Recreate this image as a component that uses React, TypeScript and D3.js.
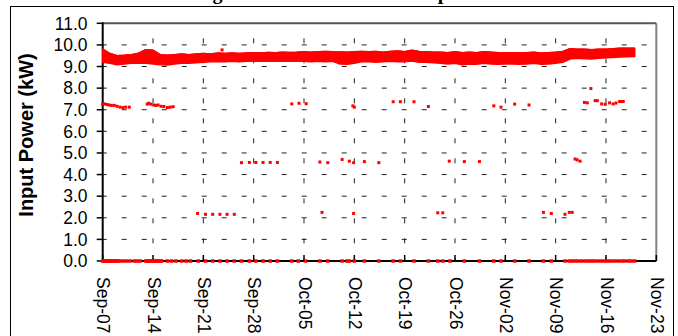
import React from 'react';
import * as d3 from 'd3';

const W = 678;
const H = 336;

const titleText = 'Long-Term Electric Heat Pump Demand';
const yTitle = 'Input Power (kW)';
const xTickLabels = ['Sep-07', 'Sep-14', 'Sep-21', 'Sep-28', 'Oct-05', 'Oct-12', 'Oct-19', 'Oct-26', 'Nov-02', 'Nov-09', 'Nov-16', 'Nov-23'];
const yTicks = [0, 1, 2, 3, 4, 5, 6, 7, 8, 9, 10, 11];

// daily envelope of the continuous input-power band (day 0 = Sep-07)
const bandHigh = [9.80, 9.60, 9.50, 9.52, 9.55, 9.62, 9.78, 9.75, 9.55, 9.52,
  9.55, 9.58, 9.55, 9.58, 9.60, 9.58, 9.62, 9.60, 9.62, 9.60,
  9.62, 9.64, 9.62, 9.65, 9.64, 9.66, 9.65, 9.66, 9.68, 9.66,
  9.68, 9.70, 9.68, 9.67, 9.66, 9.68, 9.70, 9.68, 9.70, 9.66,
  9.70, 9.72, 9.68, 9.75, 9.70, 9.68, 9.66, 9.66, 9.64, 9.68,
  9.64, 9.66, 9.64, 9.68, 9.66, 9.64, 9.62, 9.64, 9.62, 9.64,
  9.66, 9.62, 9.64, 9.66, 9.70, 9.82, 9.80, 9.80, 9.78, 9.80,
  9.80, 9.82, 9.84, 9.84, 9.85];
const bandLow = [9.20, 9.15, 9.08, 9.12, 9.15, 9.15, 9.15, 9.12, 9.08, 9.07,
  9.12, 9.15, 9.15, 9.18, 9.20, 9.22, 9.22, 9.22, 9.24, 9.22,
  9.24, 9.25, 9.24, 9.25, 9.24, 9.26, 9.24, 9.25, 9.24, 9.22,
  9.24, 9.22, 9.24, 9.12, 9.10, 9.15, 9.22, 9.22, 9.20, 9.22,
  9.24, 9.22, 9.22, 9.25, 9.20, 9.20, 9.18, 9.15, 9.12, 9.15,
  9.08, 9.12, 9.10, 9.15, 9.12, 9.10, 9.12, 9.12, 9.10, 9.12,
  9.15, 9.10, 9.12, 9.15, 9.20, 9.35, 9.38, 9.36, 9.35, 9.38,
  9.40, 9.42, 9.44, 9.45, 9.46];

// readings at zero
const zeroDays = [0.0, 0.15, 0.35, 0.5, 0.7, 0.85, 1.05, 1.2, 1.4, 1.6, 1.75, 1.95, 2.1, 2.3,
  2.8, 3.3, 3.8, 4.4, 4.8, 5.2,
  6.0, 6.2, 6.4, 6.6, 6.8, 7.0, 7.2, 7.4, 7.6, 7.8, 8.0, 8.2,
  9.0, 9.6, 10.2, 11.0, 11.6, 12.2, 13.3, 14.3, 15.3, 16.3, 17.3, 18.3, 19.3, 20.4, 21.3,
  22.3, 23.3, 24.3, 26.3, 27.2, 28.2, 30.2, 31.3, 33.3, 34.0, 34.3, 35.0, 36.4, 38.4,
  40.4, 41.4, 43.3, 45.3, 46.6, 47.3, 48.3, 50.3, 52.4, 54.4, 55.4, 57.3, 59.3, 61.3, 62.4,
  64.3, 64.9, 65.3, 65.7, 66.1, 66.6, 67.1, 67.6, 68.0, 68.4, 68.9, 69.4, 69.9, 70.3,
  70.7, 71.2, 71.7, 72.2, 72.6, 73.1, 73.5, 74.0];

// scattered non-zero readings
const cycleDays = [0.0, 0.3, 0.6, 0.9, 1.2, 1.6, 2.0, 2.4, 2.8, 3.2, 3.7,
  6.2, 6.4, 6.7, 7.1, 7.4, 7.7, 8.1, 8.5, 9.0, 9.4, 9.8,
  26.3, 27.3, 28.3, 34.8, 35.0, 40.4, 41.4, 43.3, 45.3,
  54.4, 55.4, 57.3, 59.3,
  67.0, 67.4, 67.9, 68.5, 68.8, 69.4, 69.9, 70.5, 71.0, 71.4, 71.9, 72.2, 72.4,
  19.3, 20.4, 21.3, 22.3, 23.3, 24.3, 30.2, 31.3, 33.3, 34.3, 34.9, 36.4, 38.4,
  48.2, 50.3, 52.4, 65.7, 66.0, 66.4,
  13.2, 14.3, 15.3, 16.3, 17.3, 18.3, 30.5, 34.9, 46.6, 47.3,
  61.3, 62.4, 64.3, 64.9, 65.3, 16.6];
const cycleKW = [7.26, 7.27, 7.24, 7.22, 7.20, 7.20, 7.16, 7.12, 7.10, 7.12, 7.12,
  7.26, 7.30, 7.26, 7.22, 7.20, 7.22, 7.16, 7.15, 7.10, 7.12, 7.14,
  7.27, 7.30, 7.28, 7.18, 7.12, 7.37, 7.37, 7.37, 7.15,
  7.18, 7.12, 7.26, 7.22,
  7.34, 7.32, 7.98, 7.42, 7.42, 7.27, 7.25, 7.32, 7.27, 7.31, 7.38, 7.38, 7.38,
  4.55, 4.56, 4.56, 4.56, 4.56, 4.56, 4.58, 4.55, 4.70, 4.62, 4.55, 4.60, 4.55,
  4.62, 4.60, 4.60, 4.72, 4.68, 4.62,
  2.20, 2.16, 2.16, 2.16, 2.16, 2.16, 2.25, 2.20, 2.23, 2.23,
  2.25, 2.20, 2.16, 2.25, 2.25, 9.77];

const L = 102.7, R = 656.3, T = 23.3, B = 261;
const RED = '#ff0000';

export default function App() {
  const x = d3.scaleLinear().domain([0, (xTickLabels.length - 1) * 7]).range([L, R]);
  const y = d3.scaleLinear().domain([0, 11]).range([B, T]);

  const area = d3.area<number>()
    .x((_, i) => x(i))
    .y0((_, i) => y(bandLow[i]))
    .y1((d) => y(d));
  const hiLine = d3.line<number>().x((_, i) => x(i)).y((d) => y(d));

  const weeks = xTickLabels.map((_, i) => i * 7);
  const font = 'Arial, "Liberation Sans", sans-serif';

  return (
    <svg width={W} height={H} style={{ position: 'absolute', left: 0, top: 0 }}>
      <rect x={0} y={0} width={W} height={H} fill="#fff" />
      <text x={352} y={-1} textAnchor="middle" fontFamily='"Liberation Serif", "Times New Roman", serif' fontWeight="bold" fontSize={20}>{titleText}</text>
      <rect x={10.5} y={6.5} width={663} height={340} fill="none" stroke="#000" strokeWidth={1} />

      {/* gridlines */}
      {yTicks.filter((t) => t > 0 && t < 11).map((t) => (
        <line key={'h' + t} x1={L} x2={R} y1={y(t)} y2={y(t)} stroke="#222" strokeWidth={1} strokeDasharray="5 15" strokeDashoffset={1} />
      ))}
      {weeks.filter((w) => w > 0 && w < 77).map((w) => (
        <line key={'v' + w} x1={x(w)} x2={x(w)} y1={T} y2={B} stroke="#222" strokeWidth={1} strokeDasharray="5 15" strokeDashoffset={5} />
      ))}

      {/* plot border */}
      <line x1={L} x2={R} y1={T} y2={T} stroke="#555" strokeWidth={2} />
      <line x1={R} x2={R} y1={T} y2={B} stroke="#808080" strokeWidth={2} />

      {/* axes */}
      <line x1={L} x2={L} y1={T - 1} y2={B + 1} stroke="#000" strokeWidth={2} />
      <line x1={L} x2={R} y1={B} y2={B} stroke="#000" strokeWidth={2} />
      {yTicks.map((t) => (
        <g key={'yt' + t}>
          <line x1={L - 6} x2={L} y1={y(t)} y2={y(t)} stroke="#000" strokeWidth={1.5} />
          <text x={87.5} y={y(t)} dy="0.36em" textAnchor="end" fontFamily={font} fontSize={17.5}>{t.toFixed(1)}</text>
        </g>
      ))}
      {weeks.map((w, i) => (
        <g key={'xt' + w}>
          <line x1={x(w)} x2={x(w)} y1={B - 6} y2={B} stroke="#000" strokeWidth={1.5} />
          <text transform={`translate(${x(w)},277) rotate(90)`} dy="0.3em" fontFamily={font} fontSize={17.5}>{xTickLabels[i]}</text>
        </g>
      ))}
      <text transform={`translate(33,135) rotate(-90)`} textAnchor="middle" fontFamily={font} fontWeight="bold" fontSize={20}>{yTitle}</text>

      {/* data */}
      <path d={area(bandHigh) || ''} fill={RED} stroke={RED} strokeWidth={1.5} strokeLinejoin="round" />
      <path d={hiLine(bandHigh) || ''} fill="none" stroke={RED} strokeWidth={1.5} />
      {zeroDays.map((d, i) => (
        <rect key={'z' + i} x={x(d) - 1.75} y={y(0) - 1.75} width={3.5} height={3.5} fill={RED} />
      ))}
      {cycleDays.map((d, i) => (
        <rect key={'c' + i} x={x(d) - 1.5} y={y(cycleKW[i]) - 1.5} width={3} height={3} fill={RED} />
      ))}
    </svg>
  );
}
